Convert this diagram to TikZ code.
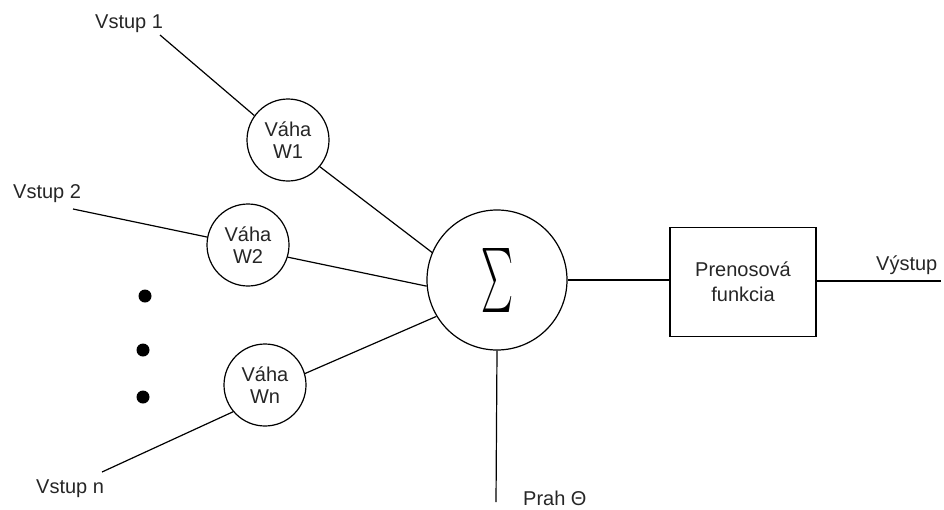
\documentclass[tikz,border=0pt]{standalone}
\usepackage{fontspec}
\setmainfont{Liberation Sans}
\begin{document}
\begin{tikzpicture}[x=1pt,y=-1pt,
  wire/.style={line width=1.2pt, draw=black},
  weight/.style={circle, draw, line width=1.2pt, minimum size=82pt, inner sep=0pt,
    align=center, font=\fontsize{20}{22}\selectfont, text=black!85},
  label/.style={font=\fontsize{20}{22}\selectfont, text=black!85, inner sep=0pt},
  dotmark/.style={circle, fill=black, minimum size=13pt, inner sep=0pt}]
\useasboundingbox (0,0) rectangle (944,509);

% weight nodes
\node[weight] (w1) at (288,140) {Váha\\W1};
\node[weight] (w2) at (248,245) {Váha\\W2};
\node[weight] (wn) at (265,385) {Váha\\Wn};

% summing junction
\node[circle, draw, line width=1.2pt, minimum size=140pt, inner sep=0pt] (sum) at (497,280)
  {\resizebox{32pt}{48pt}{$\sum$}};

% transfer function block
\node[draw, line width=1.4pt, minimum width=146pt, minimum height=109pt, align=center,
  font=\fontsize{20}{25}\selectfont, text=black!85] (tf) at (743,282)
  {Prenosová\\funkcia};

% input labels
\node[label, anchor=base west] (in1) at (95,28) {Vstup 1};
\node[label, anchor=base west] (in2) at (13,198) {Vstup 2};
\node[label, anchor=base west] (inn) at (36,493) {Vstup n};
\node[label, anchor=base west] (th) at (523,505) {Prah Θ};
\node[label, anchor=base west] (out) at (876,270) {Výstup};

% free line ends
\coordinate (e1) at (160,35);
\coordinate (e2) at (73,209);
\coordinate (en) at (102,472);
\coordinate (eth) at (496,502);
\coordinate (eout) at (941,281);

% ellipsis dots
\node[dotmark] (d1) at (145,296) {};
\node[dotmark] (d2) at (143,350) {};
\node[dotmark] (d3) at (143,397) {};

% connections
\draw[wire] (e1) -- (w1.144);
\draw[wire] (e2) -- (w2.169);
\draw[wire] (en) -- (wn.220);
\draw[wire] (w1.-40) -- (sum.157);
\draw[wire] (w2.-17) -- (sum.185);
\draw[wire] (wn.16) -- (sum.211);
\draw[wire] (sum.south) -- (eth);
\draw[wire] (sum.east) -- (sum.east -| tf.west);
\draw[wire] (tf.east |- eout) -- (eout);
\end{tikzpicture}
\end{document}
